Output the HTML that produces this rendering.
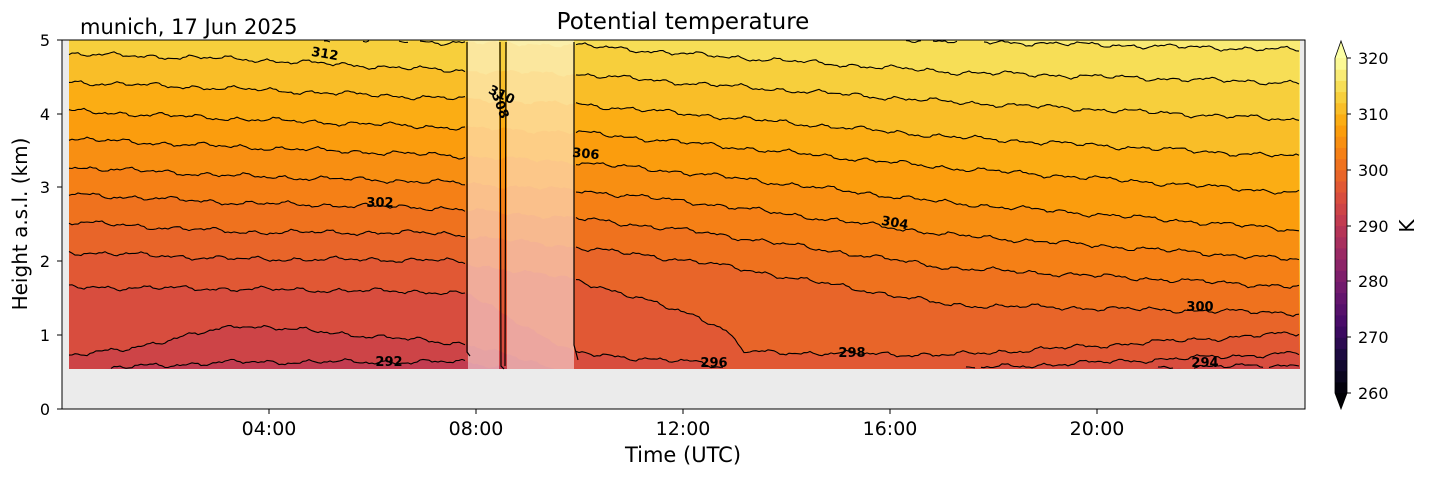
<!DOCTYPE html>
<html><head><meta charset="utf-8"><style>
html,body{margin:0;padding:0;background:#fff;}
svg{display:block;font-family:"DejaVu Sans","Liberation Sans",sans-serif;}
</style></head><body>
<svg id="s" width="1429" height="478" viewBox="0 0 1429 478" xmlns="http://www.w3.org/2000/svg">
<rect x="62" y="40" width="1243" height="369" fill="#ebebeb"/>
<g id="fills"></g>
<g id="lines" fill="none" stroke="#000" stroke-width="1.1"></g>
<rect x="468" y="40" width="31" height="329" fill="#fff" opacity="0.5"/>
<rect x="507" y="40" width="67" height="329" fill="#fff" opacity="0.5"/>
<g stroke="#000" stroke-width="1.2" fill="none">
<path d="M467 42 L467 352 L470 356"/>
<path d="M500 42 L501 366 L504 369 M506 42 L505 366"/>
<path d="M574 42 L574 345 L578 360"/>
</g>
<g font-size="13" font-weight="bold" fill="#000" text-anchor="middle">
<text x="325" y="58" transform="rotate(10 325 53)">312</text>
<text x="502" y="99" transform="rotate(25 502 94)">310</text>
<text x="501" y="110" transform="rotate(70 501 105)">308</text>
<text x="586" y="158" transform="rotate(5 586 153)">306</text>
<text x="380" y="207">302</text>
<text x="895" y="227" transform="rotate(10 895 222)">304</text>
<text x="1200" y="311">300</text>
<text x="852" y="357">298</text>
<text x="714" y="367">296</text>
<text x="1205" y="367">294</text>
<text x="389" y="366">292</text>
</g>
<rect x="62" y="40" width="1243" height="369" fill="none" stroke="#000" stroke-width="1"/>
<g stroke="#000" stroke-width="1">
<line x1="57" y1="409" x2="62" y2="409"/><line x1="57" y1="335" x2="62" y2="335"/><line x1="57" y1="261" x2="62" y2="261"/><line x1="57" y1="187" x2="62" y2="187"/><line x1="57" y1="114" x2="62" y2="114"/><line x1="57" y1="40" x2="62" y2="40"/>
<line x1="269" y1="409" x2="269" y2="414"/><line x1="476" y1="409" x2="476" y2="414"/><line x1="683" y1="409" x2="683" y2="414"/><line x1="890" y1="409" x2="890" y2="414"/><line x1="1097" y1="409" x2="1097" y2="414"/>
</g>
<g font-size="16" fill="#000" text-anchor="end">
<text x="50" y="415">0</text><text x="50" y="341">1</text><text x="50" y="267">2</text><text x="50" y="193">3</text><text x="50" y="120">4</text><text x="50" y="46">5</text>
</g>
<g font-size="19" fill="#000" text-anchor="middle">
<text x="269" y="435">04:00</text><text x="476" y="435">08:00</text><text x="683" y="435">12:00</text><text x="890" y="435">16:00</text><text x="1097" y="435">20:00</text>
</g>
<text x="683" y="462" font-size="21" text-anchor="middle">Time (UTC)</text>
<text x="27" y="224" font-size="20" text-anchor="middle" transform="rotate(-90 27 224)">Height a.s.l. (km)</text>
<text x="683" y="29" font-size="23" text-anchor="middle">Potential temperature</text>
<text x="80" y="34" font-size="21">munich, 17 Jun 2025</text>
<g id="cbar"></g>
<g stroke="#000" stroke-width="1">
<line x1="1347" y1="58" x2="1351" y2="58"/><line x1="1347" y1="114" x2="1351" y2="114"/><line x1="1347" y1="170" x2="1351" y2="170"/><line x1="1347" y1="226" x2="1351" y2="226"/><line x1="1347" y1="281" x2="1351" y2="281"/><line x1="1347" y1="337" x2="1351" y2="337"/><line x1="1347" y1="393" x2="1351" y2="393"/>
</g>
<g font-size="16" fill="#000">
<text x="1358" y="64">320</text><text x="1358" y="120">310</text><text x="1358" y="176">300</text><text x="1358" y="232">290</text><text x="1358" y="287">280</text><text x="1358" y="343">270</text><text x="1358" y="399">260</text>
</g>
<text x="1414" y="226" font-size="20" text-anchor="middle" transform="rotate(-90 1414 226)">K</text>
</svg>
<script>
(function(){
var stops=[[0,[0,0,4]],[0.1,[22,11,57]],[0.2,[66,10,104]],[0.3,[106,23,110]],[0.4,[147,38,103]],[0.5,[188,55,84]],[0.6,[221,81,58]],[0.7,[243,120,25]],[0.8,[252,165,10]],[0.9,[246,215,70]],[1,[252,255,164]]];
function inf(t){t=Math.max(0,Math.min(1,t));for(var i=1;i<stops.length;i++){if(t<=stops[i][0]){var a=stops[i-1],b=stops[i],f=(t-a[0])/(b[0]-a[0]);var c=a[1].map(function(v,k){return Math.round(v+(b[1][k]-v)*f);});return 'rgb('+c.join(',')+')';}}return 'rgb(252,255,164)';}
function col(K){return inf((K-260)/60);}
var L={
316:[[69,15],[440,25],[574,26],[700,32],[950,41],[1300,50]],
314:[[69,25],[240,30],[300,38],[440,42],[574,45],[700,55],[950,72],[1300,83]],
312:[[69,54],[240,59],[440,70],[574,74],[700,84],[950,102],[1300,120]],
310:[[69,82],[240,89],[440,98],[574,104],[700,115],[950,137],[1300,157]],
308:[[69,111],[240,119],[440,127],[574,132],[700,144],[950,168],[1300,193]],
306:[[69,139],[240,147],[440,155],[574,162],[700,174],[950,203],[1300,230]],
304:[[69,167],[240,176],[440,182],[574,190],[700,203],[950,235],[1300,260]],
302:[[69,194],[240,203],[440,208],[574,218],[700,232],[950,268],[1300,287]],
300:[[69,222],[240,232],[440,233],[574,247],[700,262],[950,305],[1300,313]],
298:[[69,252],[240,259],[440,260],[574,279],[700,317],[725,330],[745,352],[950,355],[1300,333]],
296:[[69,287],[240,289],[440,292],[468,294],[574,353],[700,363],[760,375],[940,373],[975,368],[1300,353]],
294:[[69,356],[120,350],[240,325],[440,342],[468,344],[574,374],[1100,376],[1150,368],[1300,365]],
292:[[69,378],[110,369],[140,366],[240,362],[440,362],[468,362],[574,378],[1300,380]]
};
function interp(p,x){if(x<=p[0][0])return p[0][1];for(var i=1;i<p.length;i++){if(x<=p[i][0]){var f=(x-p[i-1][0])/(p[i][0]-p[i-1][0]);return p[i-1][1]+(p[i][1]-p[i-1][1])*f;}}return p[p.length-1][1];}
function noise(x,k){return 1.3*Math.sin(x*0.16+k*0.3)+0.9*Math.sin(x*0.33+k*0.7)+1.0*Math.sin(x*0.061+k)+0.5*Math.sin(x*0.9+k*1.3);}
var fills='',lines='';
fills+='<rect x="69" y="40" width="1231" height="329" fill="'+col(317)+'"/>';
var levels=[316,314,312,310,308,306,304,302,300,298,296,294,292];
levels.forEach(function(K){
  var pts=[];for(var x=69;x<=1300;x+=3){var y=interp(L[K],x)+noise(x,K);pts.push([x,y]);}
  var d='M69 369';pts.forEach(function(p){d+=' L'+p[0]+' '+Math.max(40,Math.min(369,p[1])).toFixed(1);});d+=' L1300 369 Z';
  fills+='<path d="'+d+'" fill="'+col(K-1)+'"/>';
  var ld='',on=false;
  pts.forEach(function(p){var ok=p[1]>40.5&&p[1]<368.5&&!(p[0]>467&&p[0]<575);if(ok){ld+=(on?' L':' M')+p[0]+' '+p[1].toFixed(1);on=true;}else on=false;});
  if(ld)lines+='<path d="'+ld+'"/>';
});
document.getElementById('fills').innerHTML=fills;
document.getElementById('lines').innerHTML=lines;
var cb='',y0=393,s=(393-58)/60;
for(var v=260;v<320;v+=2){var yt=y0-(v+2-260)*s;cb+='<rect x="1335" y="'+yt.toFixed(2)+'" width="12" height="'+(s*2+0.6).toFixed(2)+'" fill="'+col(v+1)+'"/>';}
cb+='<path d="M1335 58 L1341 41 L1347 58 Z" fill="'+col(321)+'"/>';
cb+='<path d="M1335 393 L1341 409 L1347 393 Z" fill="#000004"/>';
cb+='<path d="M1335 58 L1341 41 L1347 58 L1347 393 L1341 409 L1335 393 Z" fill="none" stroke="#000" stroke-width="0.8"/>';
document.getElementById('cbar').innerHTML=cb;
})();
</script>
</body></html>
